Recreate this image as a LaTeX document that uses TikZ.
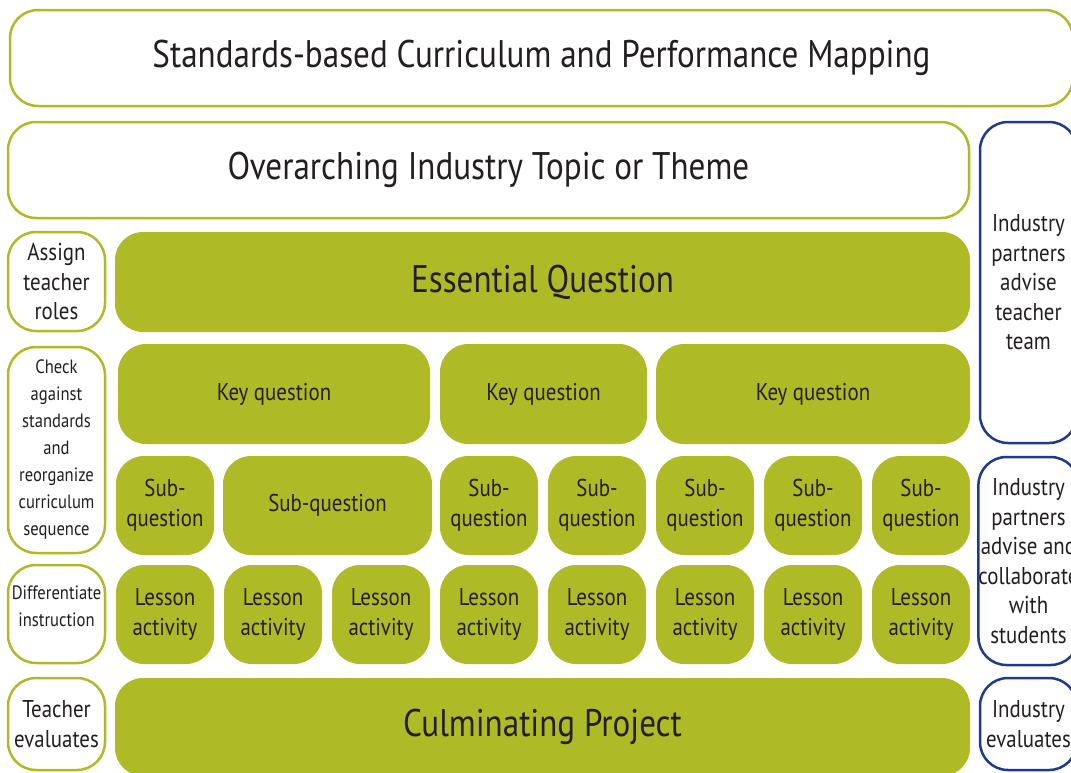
\documentclass[tikz,border=0pt]{standalone}
\usepackage{fontspec}
\setmainfont[FakeStretch=0.86]{PT Sans}
\usetikzlibrary{positioning}
\definecolor{leafgreen}{HTML}{AFBA27}
\definecolor{partnerblue}{HTML}{1E3A8C}
\definecolor{inkgray}{HTML}{231F20}

\begin{document}
\begin{tikzpicture}[x=1pt,y=-1pt,
  every node/.style={text=inkgray, align=center, inner sep=0pt},
  greenbox/.style={fill=leafgreen, rounded corners=28pt},
  whitebox/.style={draw=leafgreen, line width=2.5pt, fill=white, rounded corners=28pt},
  bluebox/.style={draw=partnerblue, line width=2.5pt, fill=white, rounded corners=28pt},
  bigtext/.style={font=\fontsize{38.5}{42}\selectfont},
  midtext/.style={font=\fontsize{24.3}{29.5}\selectfont},
  smalltext/.style={font=\fontsize{19.3}{27}\selectfont}]
  \useasboundingbox (0,0) rectangle (1071,772);
  \clip (0,0) rectangle (1071,772);

  % top rows
  \node[whitebox, bigtext, minimum width=1063pt, minimum height=96pt] (mapping) at (541.5,58) {Standards-based Curriculum and Performance Mapping};
  \node[whitebox, bigtext, minimum width=961pt, minimum height=96pt] (theme) at (488.5,170) {Overarching Industry Topic or Theme};
  \node[greenbox, bigtext, minimum width=855pt, minimum height=100pt] (essential) at (542.5,282) {Essential Question};

  % key questions
  \node[greenbox, midtext, minimum width=312pt, minimum height=100pt] (key1) at (274,394) {Key question};
  \node[greenbox, midtext, minimum width=207pt, minimum height=100pt] (key2) at (543.5,394) {Key question};
  \node[greenbox, midtext, minimum width=314pt, minimum height=100pt] (key3) at (813,394) {Key question};

  % sub-questions
  \node[greenbox, midtext, minimum width=98pt, minimum height=99pt] (sub1) at (165,505.5) {Sub-\\question};
  \node[greenbox, midtext, minimum width=209pt, minimum height=99pt] (sub2) at (327.5,505.5) {Sub-question};
  \foreach \cx [count=\i from 3] in {489,597,705,813,921}
    \node[greenbox, midtext, minimum width=98pt, minimum height=99pt] (sub\i) at (\cx,505.5) {Sub-\\question};

  % lesson activities
  \foreach \cx [count=\i] in {165,273,381,489,597,705,813,921}
    \node[greenbox, midtext, minimum width=98pt, minimum height=99pt] (lesson\i) at (\cx,614.5) {Lesson\\activity};

  \node[greenbox, bigtext, minimum width=855pt, minimum height=98pt] (project) at (542.5,727) {Culminating Project};

  % teacher side
  \node[whitebox, midtext, minimum width=97pt, minimum height=99pt] (roles) at (56.5,281.5) {Assign\\teacher\\roles};
  \node[whitebox, smalltext, minimum width=97pt, minimum height=206pt] (check) at (56.5,450) {Check\\against\\standards\\and\\reorganize\\curriculum\\sequence};
  \node[whitebox, minimum width=97pt, minimum height=98pt] (differ) at (56.5,614) {};
  \node[smalltext] (differtext) at ([yshift=8pt]differ.center) {Differentiate\\instruction};
  \node[whitebox, midtext, minimum width=97pt, minimum height=92pt] (tevaluates) at (56.5,724) {Teacher\\evaluates};

  % industry side
  \node[bluebox, midtext, minimum width=97pt, minimum height=321pt] (advise) at (1028.5,282.5) {Industry\\partners\\advise\\teacher\\team};
  \node[bluebox, midtext, minimum width=97pt, minimum height=208pt] (collab) at (1028.5,561) {Industry\\partners\\advise and\\collaborate\\with\\students};
  \node[bluebox, midtext, minimum width=97pt, minimum height=92pt] (ievaluates) at (1028.5,724) {Industry\\evaluates};
\end{tikzpicture}
\end{document}
